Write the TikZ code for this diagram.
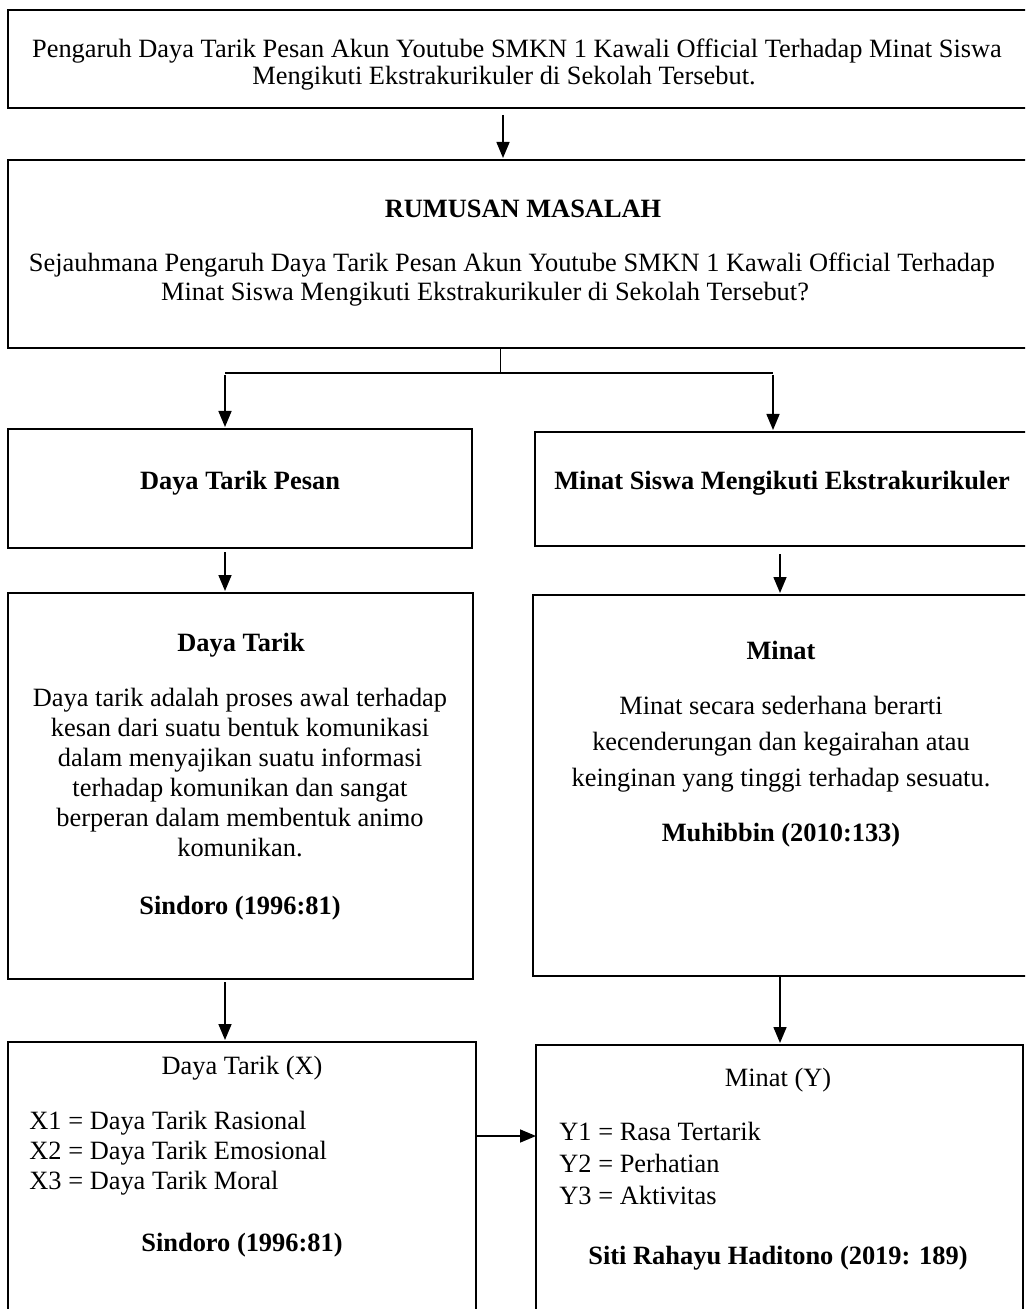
\documentclass[tikz,border=0pt]{standalone}
\usepackage{fontspec}
\setmainfont{Liberation Serif}
\usetikzlibrary{arrows.meta,calc,fit}
\begin{document}
\begin{tikzpicture}[x=0.5pt,y=-0.5pt,
  box/.style={draw,line width=1.15pt,inner sep=0pt,outer sep=0pt},
  tx/.style={inner sep=0pt,anchor=mid,font=\fontsize{13.2}{15.8}\selectfont},
  bt/.style={inner sep=0pt,anchor=mid,font=\fontsize{13.2}{15.8}\selectfont\bfseries},
  lt/.style={inner sep=0pt,anchor=mid west,font=\fontsize{13.2}{15.8}\selectfont},
  arr/.style={line width=0.8pt,-{Triangle[length=8pt,width=6.5pt]}},
  ln/.style={line width=0.6pt}]
\useasboundingbox (0,0) rectangle (1025,1309);
\clip (0,0) rectangle (1025,1309);

% boxes
\node[box,fit={(8,10) (1040,108)}] (A) {};
\node[box,fit={(8,160) (1040,348)}] (B) {};
\node[box,fit={(8,429) (472,548)}] (C) {};
\node[box,fit={(535,432) (1040,546)}] (D) {};
\node[box,fit={(8,593) (473,979)}] (E) {};
\node[box,fit={(533,595) (1040,976)}] (F) {};
\node[box,fit={(8,1042) (476,1325)}] (G) {};
\node[box,fit={(536,1045) (1023,1325)}] (H) {};

% texts
\node[tx] (a1) at (517,53) {Pengaruh Daya Tarik Pesan Akun Youtube SMKN 1 Kawali Official Terhadap Minat Siswa};
\node[tx] (a2) at (504,80) {Mengikuti Ekstrakurikuler di Sekolah Tersebut.};

\node[bt] (b0) at (523,213) {RUMUSAN MASALAH};
\node[tx] (b1) at (512,267) {Sejauhmana Pengaruh Daya Tarik Pesan Akun Youtube SMKN 1 Kawali Official Terhadap};
\node[tx] (b2) at (485,296) {Minat Siswa Mengikuti Ekstrakurikuler di Sekolah Tersebut?};

\node[bt] (c0) at (240,485) {Daya Tarik Pesan};
\node[bt] (d0) at (782,485) {Minat Siswa Mengikuti Ekstrakurikuler};

\node[bt] (e0) at (241,647) {Daya Tarik};
\node[tx] (e1) at (240,702) {Daya tarik adalah proses awal terhadap};
\node[tx] (e2) at (240,732) {kesan dari suatu bentuk komunikasi};
\node[tx] (e3) at (240,762) {dalam menyajikan suatu informasi};
\node[tx] (e4) at (240,792) {terhadap komunikan dan sangat};
\node[tx] (e5) at (240,822) {berperan dalam membentuk animo};
\node[tx] (e6) at (240,852) {komunikan.};
\node[bt] (e7) at (240,910) {Sindoro (1996:81)};

\node[bt] (f0) at (781,655) {Minat};
\node[tx] (f1) at (781,710) {Minat secara sederhana berarti};
\node[tx] (f2) at (781,746) {kecenderungan dan kegairahan atau};
\node[tx] (f3) at (781,782) {keinginan yang tinggi terhadap sesuatu.};
\node[bt] (f4) at (781,837) {Muhibbin (2010:133)};

\node[tx] (g0) at (242,1070) {Daya Tarik (X)};
\node[lt] (g1) at (29,1125) {X1 = Daya Tarik Rasional};
\node[lt] (g2) at (29,1155) {X2 = Daya Tarik Emosional};
\node[lt] (g3) at (29,1185) {X3 = Daya Tarik Moral};
\node[bt] (g4) at (242,1247) {Sindoro (1996:81)};

\node[tx] (h0) at (778,1082) {Minat (Y)};
\node[lt] (h1) at (559,1136) {Y1 = Rasa Tertarik};
\node[lt] (h2) at (559,1168) {Y2 = Perhatian};
\node[lt] (h3) at (559,1200) {Y3 = Aktivitas};
\node[bt] (h4) at (778,1260) {Siti Rahayu Haditono (2019: 189)};

% connector columns
\coordinate (xA) at (503,0);
\coordinate (xS) at (500,373);
\coordinate (hL) at (225,373);
\coordinate (hR) at (773,373);
\coordinate (xL) at (225,0);
\coordinate (xR) at (780,0);
\coordinate (yGH) at (0,1136);

% connectors
\draw[arr] ($(A.south -| xA)+(0,7)$) -- ($(B.north -| xA)+(0,-2)$);
\draw[ln,line width=0.5pt] (B.south -| xS) -- (xS);
\draw[ln] (hL) -- (hR);
\draw[arr] ($(hL)+(0,2)$) -- ($(C.north -| hL)+(0,-2)$);
\draw[arr] ($(hR)+(0,2)$) -- ($(D.north -| hR)+(0,-2)$);
\draw[arr] ($(C.south -| xL)+(0,4)$) -- ($(E.north -| xL)+(0,-2)$);
\draw[arr] ($(D.south -| xR)+(0,8)$) -- ($(F.north -| xR)+(0,-2)$);
\draw[arr] ($(E.south -| xL)+(0,3)$) -- ($(G.north -| xL)+(0,-2)$);
\draw[arr] ($(F.south -| xR)+(0,1)$) -- ($(H.north -| xR)+(0,-2)$);
\draw[arr] ($(G.east |- yGH)+(-1,0)$) -- (H.west |- yGH);
\end{tikzpicture}
\end{document}
